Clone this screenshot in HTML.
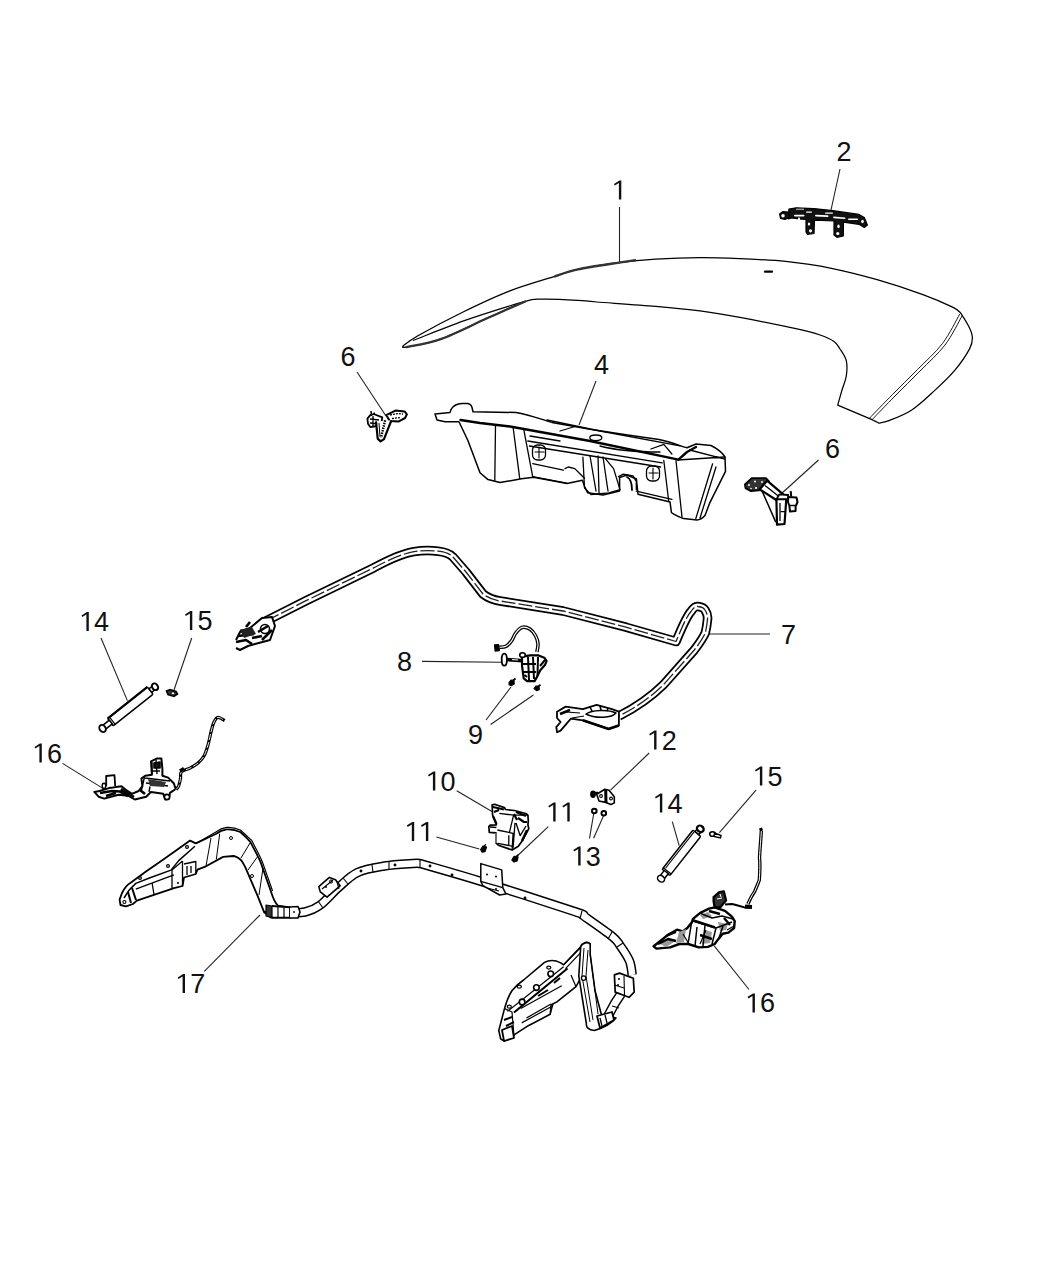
<!DOCTYPE html>
<html><head><meta charset="utf-8"><style>
html,body{margin:0;padding:0;background:#fff;}
svg{display:block;}
text{font-family:"Liberation Sans",sans-serif;font-size:27px;fill:#111;}
</style></head><body>
<svg width="1050" height="1275" viewBox="0 0 1050 1275">
<rect width="1050" height="1275" fill="#fff"/>
<!-- LABELS -->
<g fill="#111">
<path d="M618.9,199.5 L621.3,199.5 L621.3,180.5 L619.4,180.5 L614.0,183.9 L614.8,185.6 L618.9,183.1 Z"/>
<text x="836.4" y="160.5">2</text>
<text x="593.9" y="373.5">4</text>
<text x="340.4" y="365.5">6</text>
<text x="824.9" y="457.5">6</text>
<text x="780.9" y="643.5">7</text>
<text x="396.9" y="670.5">8</text>
<text x="467.9" y="744.0">9</text>
<path d="M86.4,631.0 L88.8,631.0 L88.8,612.0 L86.9,612.0 L81.5,615.4 L82.3,617.1 L86.4,614.6 Z"/>
<text x="94.0" y="631.0">4</text>
<path d="M189.9,630.0 L192.3,630.0 L192.3,611.0 L190.4,611.0 L185.0,614.4 L185.8,616.1 L189.9,613.6 Z"/>
<text x="197.5" y="630.0">5</text>
<path d="M39.4,762.5 L41.8,762.5 L41.8,743.5 L39.9,743.5 L34.5,746.9 L35.3,748.6 L39.4,746.1 Z"/>
<text x="47.0" y="762.5">6</text>
<path d="M432.9,790.5 L435.3,790.5 L435.3,771.5 L433.4,771.5 L428.0,774.9 L428.8,776.6 L432.9,774.1 Z"/>
<text x="440.5" y="790.5">0</text>
<path d="M411.8,840.9 L414.2,840.9 L414.2,821.9 L412.3,821.9 L406.9,825.3 L407.7,827.0 L411.8,824.5 Z"/>
<path d="M425.9,840.9 L428.3,840.9 L428.3,821.9 L426.4,821.9 L421.0,825.3 L421.8,827.0 L425.9,824.5 Z"/>
<path d="M553.2,821.5 L555.6,821.5 L555.6,802.5 L553.7,802.5 L548.3,805.9 L549.1,807.6 L553.2,805.1 Z"/>
<path d="M567.3,821.5 L569.7,821.5 L569.7,802.5 L567.8,802.5 L562.4,805.9 L563.2,807.6 L567.3,805.1 Z"/>
<path d="M654.1,749.5 L656.5,749.5 L656.5,730.5 L654.6,730.5 L649.2,733.9 L650.0,735.6 L654.1,733.1 Z"/>
<text x="661.7" y="749.5">2</text>
<path d="M578.2,865.5 L580.6,865.5 L580.6,846.5 L578.7,846.5 L573.3,849.9 L574.1,851.6 L578.2,849.1 Z"/>
<text x="585.8" y="865.5">3</text>
<path d="M659.9,812.5 L662.3,812.5 L662.3,793.5 L660.4,793.5 L655.0,796.9 L655.8,798.6 L659.9,796.1 Z"/>
<text x="667.5" y="812.5">4</text>
<path d="M759.9,785.5 L762.3,785.5 L762.3,766.5 L760.4,766.5 L755.0,769.9 L755.8,771.6 L759.9,769.1 Z"/>
<text x="767.5" y="785.5">5</text>
<path d="M752.5,1012.4 L754.9,1012.4 L754.9,993.4 L753.0,993.4 L747.6,996.8 L748.4,998.5 L752.5,996.0 Z"/>
<text x="760.1" y="1012.4">6</text>
<path d="M182.6,993.0 L185.0,993.0 L185.0,974.0 L183.1,974.0 L177.7,977.4 L178.5,979.1 L182.6,976.6 Z"/>
<text x="190.2" y="993.0">7</text>
</g>
<!-- LEADERS -->
<g stroke="#222" stroke-width="1.1" fill="none">
<path d="M619.5,207 L619.5,262"/>
<path d="M840,169 L831,210"/>
<path d="M596,381 L579,425"/>
<path d="M357,372 L386,416"/>
<path d="M818.5,460 L781,494"/>
<path d="M710,634 L770,634"/>
<path d="M422,661.4 L501,662.3"/>
<path d="M486,720 L511,687 M490.6,724.5 L533.4,695"/>
<path d="M101,638 L127.4,700.6"/>
<path d="M191.7,638 L174,690"/>
<path d="M62.5,763.4 L103.3,788.6"/>
<path d="M456.7,790.7 L492.4,811.7"/>
<path d="M436.4,837 L479.3,849"/>
<path d="M548.3,826.7 L516.2,857"/>
<path d="M649.2,753 L610.5,790.2"/>
<path d="M589.5,838.3 L594,812 M593.6,838.3 L604.3,814"/>
<path d="M672.3,821.6 L679.2,845.7"/>
<path d="M756,790.2 L719.4,832.7"/>
<path d="M749,989.5 L714.2,945.8"/>
<path d="M204.3,971.4 L260,915"/>
</g>
<g fill="none" stroke="#000" stroke-width="1.4" stroke-linejoin="round" stroke-linecap="round">
<!-- PART 1 -->
<path d="M403.0,346.0 C405.5,344.3 407.8,341.4 417.9,335.7 C428.0,330.0 448.4,319.1 463.6,311.7 C478.8,304.3 494.1,297.0 509.3,291.1 C524.5,285.2 543.6,279.9 555.0,276.3 C566.4,272.7 567.2,271.7 577.9,269.4 C588.6,267.1 606.0,264.3 619.0,262.6 C632.0,260.9 642.2,260.0 655.7,259.2 C669.2,258.4 686.0,257.8 700.0,257.7 C714.0,257.6 725.7,258.1 740.0,258.7 C754.3,259.3 770.5,259.8 785.7,261.4 C800.9,263.0 816.2,265.2 831.4,268.3 C846.6,271.4 861.9,275.3 877.1,279.7 C892.4,284.1 910.3,290.0 922.9,294.6 C935.5,299.2 946.3,304.1 952.6,307.1 C958.9,310.2 959.3,311.9 960.6,312.9 L960.6,312.9 C961.8,314.9 966.0,321.1 968.0,325.0 C970.0,328.9 972.0,332.7 972.3,336.6 C972.6,340.5 972.7,342.9 969.7,348.6 C966.7,354.3 960.3,363.8 954.3,370.9 C948.3,378.0 940.9,384.8 933.7,391.4 C926.6,398.0 918.9,405.4 911.4,410.3 C903.9,415.2 894.4,418.5 889.0,420.6 C883.6,422.7 880.6,422.7 878.9,423.1 L878.9,423.1 C877.8,422.5 873.1,420.3 872.0,419.7 L872.0,419.7 C866.3,417.3 843.4,407.5 837.7,405.1 L837.7,405.1 C838.4,402.6 840.6,394.9 842.0,390.0 C843.4,385.1 845.6,380.9 846.3,376.0 C847.0,371.1 847.3,365.1 846.3,360.6 C845.2,356.1 842.0,352.1 840.0,349.0 C838.0,345.9 837.6,344.0 834.3,341.7 C831.0,339.4 826.2,337.1 820.0,335.0 C813.8,332.9 810.3,331.8 797.0,328.9 C783.7,326.0 756.2,320.4 740.0,317.4 C723.8,314.4 714.0,312.7 700.0,310.9 C686.0,309.1 672.9,307.9 655.7,306.4 C638.5,304.9 609.7,303.0 596.7,302.0 C583.7,301.0 586.8,300.8 577.9,300.3 C569.0,299.8 552.4,298.9 543.6,299.1 C534.8,299.3 534.8,298.1 525.3,301.4 C515.8,304.6 500.5,312.3 486.4,318.6 C472.3,324.9 454.0,334.4 440.7,339.1 C427.4,343.9 412.7,346.0 406.4,347.1 C400.1,348.2 403.6,346.2 403.0,346.0 Z" stroke-width="1.25"/>
<path d="M413.3,340.3 C421.7,337.1 447.6,326.6 463.6,320.9 C479.6,315.2 499.0,309.2 509.3,306.0 C519.6,302.8 522.6,302.2 525.3,301.4" stroke-width="1.2"/>
<path d="M962.0,316.0 C959.2,320.8 952.0,335.8 945.0,345.0 C938.0,354.2 928.3,362.5 920.0,371.0 C911.7,379.5 903.0,387.9 895.0,396.0 C887.0,404.1 875.8,415.8 872.0,419.7" stroke-width="0.9"/>
<path d="M959.5,314.5 C956.7,319.3 949.5,334.3 942.5,343.5 C935.5,352.7 925.8,361.0 917.5,369.5 C909.2,378.0 900.5,386.4 892.5,394.5 C884.5,402.6 873.3,414.2 869.5,418.2" stroke-width="0.9"/>
<path d="M555.0,276.3 C558.8,275.1 567.2,271.7 577.9,269.4 C588.6,267.1 609.5,264.1 619.0,262.6 C628.5,261.1 632.3,260.7 635.0,260.3" stroke-width="2.4" stroke="#333"/>
<path d="M406.4,347.1 C412.1,345.8 427.4,343.9 440.7,339.1 C454.0,334.4 472.3,324.9 486.4,318.6 C500.5,312.3 518.8,304.3 525.3,301.4" stroke-width="2.2" stroke="#333"/>
<path d="M765,271.7 L772,271.7" stroke-width="2.2"/>
</g>
<!-- PART 2 -->
<g stroke="#000" stroke-linejoin="round">
<path d="M788.9,209 L796.2,207.8 L814,208.6 L832.9,210.7 L859,214.4 L864.3,217.5 L867.4,225 L864.3,227.5 L859,224.3 L843.5,222.2 L843.3,236 L837,237.3 L834,235 L834,221 L814.5,220.1 L814,233.5 L807.5,234.3 L806,232 L806,219.5 L801.4,219.1 L791,218 L788.5,219 Z" fill="#111" stroke-width="1.2"/>
<path d="M779.6,214 L783,211.5 L788.5,212 L789.5,217.5 L785,219.5 L780.5,218.5 Z" fill="#111" stroke-width="1.2"/>
<g fill="#fff" stroke="none">
<ellipse cx="783" cy="215.8" rx="1.8" ry="1.8"/>
<rect x="794" y="214.8" width="10.5" height="1.6" rx="0.8"/>
<rect x="815" y="215" width="13.5" height="1.7" rx="0.8" transform="rotate(3 821 216)"/>
<rect x="833" y="217" width="12.5" height="1.6" rx="0.8" transform="rotate(5 839 218)"/>
<rect x="796" y="208.6" width="8" height="1.4" fill="#999"/>
<rect x="848" y="218.6" width="10" height="1.4" rx="0.7"/>
<ellipse cx="810.5" cy="230.8" rx="1.6" ry="1.6"/>
<ellipse cx="837.8" cy="233.5" rx="1.6" ry="1.6"/>
<ellipse cx="838.5" cy="226.4" rx="1.2" ry="1.8"/>
<ellipse cx="809" cy="224" rx="1.2" ry="1.6"/>
<ellipse cx="862.5" cy="221.5" rx="1.3" ry="1.8"/>
<rect x="806" y="211.5" width="6" height="1.2" rx="0.6"/>
<rect x="825" y="212.5" width="8" height="1.2" rx="0.6"/>
<rect x="798" y="217.5" width="2" height="4" rx="1"/>
</g>
</g>
<!-- PART 4 -->
<g fill="none" stroke="#000" stroke-width="1.3" stroke-linejoin="round" stroke-linecap="round">
<path d="M435,414 L450,412.5 L451,409.5 C453,406 456,404 462,403.6 L468,403.4 C471,404 472,406 473,411.8 L516,412.5 C530,415 540,419 552,422.4 L590,429.3 L626,434.8 L659,439.4 C672,442 680,446 687,447.8 L696,444 L711,445.5 C718,449 722,452 725,457 L725.5,471.4 L709.5,503.4 L705,515.6 C702,519 700,520 697,520 L683.6,518.6 C677,516 673,514 671.4,512.5 L670,501.9 L638,494.2 L636.4,479 L627,475 L619.6,477.5 L619.6,491 L603,495 L587.6,492.7 L584.6,486.6 L582.4,480.3 L567,483.4 L533.6,477.3 L521.4,478.8 L500,482.6 L488,479.6 L480,472.7 L468,440.7 L459,421.7 L445,421.7 L437,420 Z" fill="#fff" stroke-width="1.5"/>
<path d="M460.5,420 L480,423 L510,426.5 L590,441 L678.4,459.7 L687,452 L696,447" stroke-width="2.4"/>
<path d="M547,420 L600,431 L680,445.9 M527.8,441 L662.2,462.9 M529.4,446 L660.6,467"/>
<path d="M677.5,460 L724.8,457 M689.7,450 L724.8,459.2 M650.9,449 L663.8,444.3 L671.9,454"/>
<path d="M676,460.7 L682,517 M712.6,463.8 L695.8,518.6 M716,467 L700,518 M663.8,460.5 L668.7,501"/>
<path d="M495.5,424.7 L494.8,480.3 M513.2,428 L519.7,478.3 M523.8,429.7 L532.7,476.7"/>
<path d="M532.7,463.7 L563.4,470.2 M532.7,476.7 L566.7,483.1"/>
<path d="M565,468.6 L568.3,467 L574.8,468.6 L581.2,475 L584.5,478.3"/>
<path d="M582.9,457.2 L584.5,488 L591,494.5 L608.8,492.9 L620,489.6 L613.6,468.6 L605.5,458.9 M590,456 L596,491 M598,456 L599,493 M603,457 L608,491"/>
<path d="M618.5,476.7 L623.3,474.2 L633,475.9 L636.3,481.5 L636.3,489.6 M636.3,491.2 L671.9,499.3"/>
<path d="M530,436 L560,441 M560,431 L575,426.5 M600,446 C615,450 640,452 660,452"/>
<rect x="532.5" y="445" width="13" height="15" rx="5"/>
<path d="M535,452 L544,452 M539,447 L539,458" stroke-width="1.1"/>
<rect x="646.5" y="466" width="13" height="15" rx="5"/>
<path d="M649,473 L658,473 M653,468 L653,479" stroke-width="1.1"/>
<ellipse cx="595.8" cy="437.8" rx="6" ry="2.8"/>
<path d="M627,477 C631,479 632,484 632,490" stroke-width="1.8"/>
</g>
<!-- PART 6 LEFT -->
<g fill="none" stroke="#000" stroke-width="1.6" stroke-linejoin="round">
<path d="M386.3,415.1 L395.4,410.6 L404.6,411.4 L406.9,414.3 L405.1,418 L398.9,421.4 L389.7,420.9 Z" fill="#fff" stroke-width="2"/>
<path d="M390,415 L398,413.5 L403,414 M392,418.5 L401,417.5" stroke-width="1.3" stroke-dasharray="2 1"/>
<path d="M367.4,418.6 L370.3,415.1 L373.7,414 L382.3,417.4 L381.7,421.4 L377.1,426 L370.3,427.1 L368,423.7 Z" fill="#fff" stroke-width="1.8"/>
<path d="M370,419 L379,420 M370,423 L376,423.5 M373,416 L373,426" stroke-width="1.3"/>
<path d="M376,421.4 L377.7,438.6 L380.6,441.4 L384,439.1 L391.4,420.3" fill="#fff" stroke-width="2.2"/>
<path d="M385.1,420.3 L381.1,437.4" stroke-width="2.4" stroke-dasharray="1.5 1"/>
<path d="M379,423 L380,437" stroke-width="1"/>
<path d="M371,411 L371.5,416 M374,412.5 L374.5,415" stroke-width="1.5"/>
</g>
<!-- PART 6 RIGHT -->
<g fill="none" stroke="#000" stroke-width="1.6" stroke-linejoin="round">
<path d="M744.9,484.4 L751.7,478.2 L765.9,478.2 L769,481.3 L767.1,486.9 L761,490 L751,491.2 L745.5,488.1 Z" fill="#333" stroke-width="1.8"/>
<g fill="#fff" stroke="none"><circle cx="749" cy="485" r="1"/><circle cx="755" cy="481.5" r="1"/><circle cx="762" cy="482" r="0.9"/><circle cx="756" cy="488" r="1.1"/><circle cx="764" cy="485.5" r="0.9"/><circle cx="751" cy="488.5" r="0.8"/></g>
<path d="M767.1,480.7 L783.2,494.3 L777,500.5 L759.7,489.3 Z" fill="#fff" stroke-width="2.2"/>
<path d="M765,485.5 L779,496.5" stroke-width="1.4"/>
<path d="M761.6,490 L775.8,522.1" stroke-width="1.5"/>
<path d="M776.4,499.2 L777,524.6 L784.5,524 L786.3,499.2 Z" fill="#fff" stroke-width="2.2"/>
<path d="M779.5,494.3 L788.2,495 L788.2,499.2 L776.4,499.2 Z" fill="#fff" stroke-width="1.8"/>
<path d="M780.8,511.6 L785.5,511.6 M780,503 L780,521" stroke-width="1.3"/>
<path d="M790.7,491.2 L791.2,496.5" stroke-width="2"/>
<path d="M788.2,497 L796.5,497.5 L797.5,502 L795.6,506.5 L795.6,511 L790,511.6 L789.4,506 L788,502 Z" fill="#fff" stroke-width="2"/>
<path d="M789.5,505.5 L795.5,505.5" stroke-width="1.5"/>
</g>
<!-- PART 7 -->
<g fill="none" stroke-linejoin="round" stroke-linecap="butt">
<path d="M266,621 L306,600.7 L374,567.7 C390,559 405,553 414,551.6 C425,550 432,550.5 438,551.2 C446,552 450,554 453,557 L466,572 L483,594 C488,598 494,600 500,601 L563,611 L626,627.2 L676,641.5 C681,630 686,617 691,611.5 C694,607 696,606 698,606.5 C702,607 704,608 705,610 C707,613 708,616 707.5,619.3 C707,625 706,630 705.3,633 C702,640 698,645 694.3,650 L663.5,684.7 C650,698 635,708 619,716" stroke="#000" stroke-width="9.5"/>
<path d="M266,621 L306,600.7 L374,567.7 C390,559 405,553 414,551.6 C425,550 432,550.5 438,551.2 C446,552 450,554 453,557 L466,572 L483,594 C488,598 494,600 500,601 L563,611 L626,627.2 L676,641.5 C681,630 686,617 691,611.5 C694,607 696,606 698,606.5 C702,607 704,608 705,610 C707,613 708,616 707.5,619.3 C707,625 706,630 705.3,633 C702,640 698,645 694.3,650 L663.5,684.7 C650,698 635,708 619,716" stroke="#fff" stroke-width="6"/>
<path d="M266,621 L306,600.7 L374,567.7 C390,559 405,553 414,551.6 C425,550 432,550.5 438,551.2 C446,552 450,554 453,557 L466,572 L483,594 C488,598 494,600 500,601 L563,611 L626,627.2 L676,641.5 C681,630 686,617 691,611.5 C694,607 696,606 698,606.5 C702,607 704,608 705,610 C707,613 708,616 707.5,619.3 C707,625 706,630 705.3,633 C702,640 698,645 694.3,650 L663.5,684.7 C650,698 635,708 619,716" stroke="#222" stroke-width="1.3" stroke-dasharray="14 3"/>
</g>
<g fill="none" stroke="#000" stroke-width="1.6" stroke-linejoin="round">
<path d="M236,640 L240,632 L250,628 L262,618 L272,617 L275,626 L270,640 L255,644 L248,646 L240,650 L236,648" fill="#fff" stroke-width="2"/>
<path d="M238,636 L254,634 M246,627 L250,622 M258,632 L268,626 M236,642 L246,640 L252,644 M240,631 L250,629 M252,638 L262,636 M262,640 L272,630" stroke-width="2.6"/>
<path d="M240,630 L252,627 L256,634 L244,638 Z" fill="#222" stroke="none"/>
<circle cx="265" cy="629" r="4.5" stroke-width="1.6"/>
<path d="M557,711.7 L565.7,706.6 L582.9,709.1 L596.6,704.9 L612,709.1 L618.9,711.7 L618.9,725.4 L608.6,728.9 L582.9,720.3 L570.9,718.6 L560.6,730.6 L557.1,732.3 L556.3,727.1 L560.6,722 L557,718 Z" fill="#fff" stroke-width="1.8"/>
<path d="M566,712 L580,713 M572,718 L584,716" stroke-width="1.2"/>
<path d="M586,714 C592,710 608,709 616,713 C612,718 596,719 586,714 Z" stroke-width="1.5"/>
<path d="M590,707 L592,711 M600,706 L601,710 M608,708 L607,711" stroke-width="1.6"/>
<path d="M582.9,720.3 L608.6,728.9 L618.9,725.4" stroke-width="2.6"/>
<path d="M560,714 L570,710" stroke-width="2.6"/>
</g>
<!-- PART 8 -->
<g fill="none" stroke="#000" stroke-width="1.5" stroke-linejoin="round">
<path d="M499.1,647.4 C500.2,647.2 503.9,647.4 506.0,646.3 C508.1,645.2 510.1,642.8 511.7,640.6 C513.3,638.4 514.0,635.3 515.7,633.1 C517.4,630.9 519.6,628.1 522.0,627.4 C524.4,626.7 527.7,627.7 530.0,629.1 C532.3,630.5 534.4,633.5 535.7,636.0 C537.0,638.5 537.8,641.3 538.0,644.0 C538.2,646.7 537.1,650.7 536.9,652.0" stroke-width="3.6"/>
<path d="M499.1,647.4 C500.2,647.2 503.9,647.4 506.0,646.3 C508.1,645.2 510.1,642.8 511.7,640.6 C513.3,638.4 514.0,635.3 515.7,633.1 C517.4,630.9 519.6,628.1 522.0,627.4 C524.4,626.7 527.7,627.7 530.0,629.1 C532.3,630.5 534.4,633.5 535.7,636.0 C537.0,638.5 537.8,641.3 538.0,644.0 C538.2,646.7 537.1,650.7 536.9,652.0" stroke="#fff" stroke-width="1.1"/>
<path d="M494.6,645 L498.5,644.6 L499.3,650.5 L495.2,651 Z" fill="#000" stroke-width="1.4"/>
<ellipse cx="504.3" cy="659.7" rx="2.6" ry="6" fill="#fff" stroke-width="1.8"/>
<path d="M506.5,659.5 L523,660.8" stroke-width="3.6"/>
<path d="M512,659.6 L518,660" stroke="#fff" stroke-width="1"/>
<path d="M522,656.6 L530,655.4 L538.6,655.4 L544.3,657.7 L546.6,661.1 L544.9,665.1 L540.3,670.3 L536.9,677.1 L534.6,681.1 L527.1,681.1 L523.7,678.3 L522,665.7 Z" fill="#fff" stroke-width="2.2"/>
<ellipse cx="522.5" cy="655" rx="2.8" ry="2.3" fill="#fff" stroke-width="1.6"/>
<path d="M528,657 L529,680 M533,657 L534,679 M522.5,664 L536,664 M523,672 L536,672 M538,657 L537.5,676 M540,666 L545,660" stroke-width="2"/>
<path d="M524.5,675 L527,677" stroke-width="2"/>
</g>
<!-- PART 9 screws -->
<g fill="#000" stroke="#000" stroke-width="1.2" stroke-linejoin="round">
<path d="M509,682.5 L511,680 L514,680.5 L514.2,684 L511.5,685.6 L509.2,685 Z"/>
<path d="M513,680.5 L515.5,678.5" stroke-width="1.8"/>
<path d="M534,688.5 L536,686 L539,686.4 L539.3,689.6 L536.5,690.6 Z"/>
<path d="M538,686.5 L540.5,684.8" stroke-width="1.8"/>
</g>
<!-- PART 10 -->
<g fill="none" stroke="#000" stroke-width="1.3" stroke-linejoin="round">
<path d="M492.1,804.8 L494.5,804.3 L504.5,807.6 L505.5,809.5 L514.5,810.5 L526.4,813.8 L527.9,815.2 L528.3,821 L527.9,824.8 L528.8,828.6 L526.9,832.4 L522.1,841 L518.3,846.2 L512.1,850 L498.3,845.2 L496,842.9 L496,832.9 L489.3,832.4 L488.8,826.7 L490.2,825.2 L496.4,824.8 L492.6,815.2 Z" fill="#fff" stroke-width="1.7"/>
<path d="M497.4,830 L513.1,833.3 L512.1,849.5 M497.9,843.3 L512.1,846.2 M508.8,835.2 L508.8,845.2 M499.3,813.3 L513.6,815.2 L509.3,832.9 M513.6,815.2 L527.9,815.2 M515,822.9 L513.1,847.6 M516,823 L520.2,835.7 L526,826 M490,827 L496.4,827.5"/>
<path d="M493,807 L504,809.5 M494,812 L499,810 M516,812 L526,816 M518,818 L524,822 L527,822 M514,814 L517,820 M493,816 L496.5,824" stroke-width="2.2"/>
<path d="M496,833 L496,843" stroke-width="1.8" stroke="#777"/>
<path d="M522,841 L527,830" stroke-width="2.4"/>
</g>
<!-- PART 11 screws -->
<g fill="#000" stroke="#000" stroke-width="1.3" stroke-linejoin="round">
<path d="M480.7,849.5 L483,846 L486.5,847 L485,851.5 L482,852 Z"/>
<path d="M484,846 L486,844.5"/>
<path d="M511.9,860 L514,856.5 L518,857 L517,861 L514,862 Z"/>
<path d="M516,856.5 L518.5,854.5"/>
</g>
<!-- PART 12 -->
<g fill="none" stroke="#000" stroke-width="1.4" stroke-linejoin="round">
<path d="M596.7,794.3 L604.8,789.3 L609,790.2 L614.3,796.7 L614.3,802.9 L611,804.5 L605.7,802.4 L599,801 Z" fill="#fff" stroke-width="1.6"/>
<path d="M605.7,790 L606,803" stroke-width="3"/>
<circle cx="601" cy="796" r="1.4" stroke-width="1.1"/>
<circle cx="611" cy="798.5" r="1.4" stroke-width="1.1"/>
<ellipse cx="593" cy="794.3" rx="2.2" ry="3" fill="#000"/>
<path d="M594,793 L598,793" stroke-width="2.5"/>
</g>
<!-- PART 13 nuts -->
<g fill="#fff" stroke="#000" stroke-width="2"><circle cx="594.3" cy="811" r="2.3"/><circle cx="603.8" cy="813.3" r="2.3"/></g>
<!-- PART 14 LEFT strut -->
<g transform="translate(130.35,706.4) rotate(-38.5)" fill="#fff" stroke="#000" stroke-width="1.5">
<rect x="-25.5" y="-4.6" width="51" height="9.2" rx="1.5"/>
<path d="M-25.5,-4.6 L25.5,-4.6" stroke-width="2.2"/>
<rect x="-33" y="-2.4" width="8" height="4.8"/>
<ellipse cx="-35.5" cy="0" rx="3" ry="3.8" stroke-width="1.8"/>
<rect x="25.5" y="-2.2" width="4" height="4.4"/>
<ellipse cx="31.5" cy="0" rx="2.8" ry="3.6" stroke-width="2"/>
<path d="M-23,-4.6 L-23,4.6" stroke-width="1.2"/>
</g>
<!-- PART 14 RIGHT strut -->
<g transform="translate(681.45,852.8) rotate(-51.8)" fill="#fff" stroke="#000" stroke-width="1.5">
<rect x="-25" y="-5" width="50" height="10" rx="1.5"/>
<path d="M-22,-3 L24,-3" stroke-width="1.1"/>
<rect x="-30.5" y="-2.6" width="6" height="5.2"/>
<ellipse cx="-33" cy="0" rx="3" ry="3.8"/>
<rect x="25" y="-2.4" width="3" height="4.8"/>
<ellipse cx="30.5" cy="0" rx="3" ry="3.6" fill="#fff" stroke-width="2.3"/>
<path d="M-23,-5 L-23,5" stroke-width="1.3"/>
</g>
<!-- PART 15 clips -->
<g fill="#fff" stroke="#000" stroke-width="1.6">
<path d="M166.5,691 L170,689.5 L176,691.5 L177.5,694 L174,696.4 L168,694.5 Z" fill="#333"/>
<circle cx="173" cy="693.3" r="1.6" fill="#fff" stroke-width="0.8"/>
<ellipse cx="712.5" cy="834" rx="2.8" ry="2.3"/>
<path d="M714.5,833 L721,835.5 L720.5,838 L714,836.5 Z" stroke-width="1.4"/>
</g>
<!-- PART 16 LEFT -->
<g fill="none" stroke="#000" stroke-width="1.6" stroke-linejoin="round">
<path d="M94.3,791.9 L99.5,791 L109,788.1 L121.4,786.2 L126.2,790 L131.9,793.8 L138.6,791 L142.4,786.2 L141.4,778.6 L145.2,775.7 L151.9,774.8 L151,761.4 L156.7,758.6 L161.4,758.6 L162.4,769 L162.4,775.7 L168.1,777.6 L173.8,783.3 L175.7,789 L170,792.9 L169,798.6 L165.2,799.5 L163.3,793.8 L151,791.9 L146.2,796.7 L134.8,799.5 L128.1,795.7 L118.6,794.8 L104.3,798.6 L98.6,796.7 Z" fill="#fff" stroke-width="2"/>
<path d="M106.2,786.2 L106.2,776 L114.5,775.2 L115.2,786.2" fill="#fff" stroke-width="1.8"/>
<ellipse cx="104" cy="785.8" rx="1.8" ry="2.6" stroke-width="1.5"/>
<path d="M100,793 L112,791 L120,791.5 L128,796 M106,796 L116,793 M121,789 L126,792 L134,797 M140,790 L145,794" stroke-width="2.6"/>
<path d="M145,778 L170,781 M146,783 L168,786 M150,786.5 L149,792 M152,762 L152,774 M156,760 L157,774 M144.5,777 L141,792" stroke-width="1.4"/>
<path d="M154,763 L160,762 L160,768 L154,768 Z M152,771 L160,771" fill="#111" stroke-width="1.6"/>
<path d="M148,779 L166,782 L164,787 L150,786 Z" fill="#333" stroke="none"/>
<ellipse cx="167" cy="797" rx="2.6" ry="2.6" fill="#fff" stroke-width="1.6"/>
<path d="M176.0,789.5 C176.4,789.0 177.8,788.0 178.6,786.2 C179.3,784.4 180.0,781.0 180.5,778.6 C181.0,776.2 179.8,773.6 181.4,771.9 C183.0,770.1 187.2,769.6 190.0,768.1 C192.8,766.6 195.7,765.0 198.0,763.0 C200.3,761.0 202.3,759.0 204.0,756.0 C205.7,753.0 206.8,749.0 208.0,745.0 C209.2,741.0 210.0,735.8 211.0,732.0 C212.0,728.2 212.8,724.5 214.0,722.0 C215.2,719.5 216.2,717.5 218.0,717.3 C219.8,717.1 223.6,720.1 224.7,720.7" stroke-width="3.2"/>
<path d="M176.0,789.5 C176.4,789.0 177.8,788.0 178.6,786.2 C179.3,784.4 180.0,781.0 180.5,778.6 C181.0,776.2 179.8,773.6 181.4,771.9 C183.0,770.1 187.2,769.6 190.0,768.1 C192.8,766.6 195.7,765.0 198.0,763.0 C200.3,761.0 202.3,759.0 204.0,756.0 C205.7,753.0 206.8,749.0 208.0,745.0 C209.2,741.0 210.0,735.8 211.0,732.0 C212.0,728.2 212.8,724.5 214.0,722.0 C215.2,719.5 216.2,717.5 218.0,717.3 C219.8,717.1 223.6,720.1 224.7,720.7" stroke="#fff" stroke-width="0.9" stroke-dasharray="6 2"/>
<path d="M180,771 L184,768.5" stroke-width="3.5"/>
</g>
<!-- PART 16 RIGHT -->
<g fill="none" stroke="#000" stroke-width="1.6" stroke-linejoin="round">
<path d="M693,918.9 L699.9,913.1 L709,908.6 L714.7,907.4 L725,910.9 L731.9,916.6 L734.7,921.1 L734.1,928 L728.4,932.6 L722.7,933.7 L718.1,939.4 L714.7,944 L707.9,946.9 L698.7,947.4 L688.4,944 L679.3,944 L670.1,947.4 L656.4,948.6 L653.6,946.3 L658.7,942.3 L667.9,934.9 L677,929.7 L682.7,931.4 L687.3,928 L691.9,922.3 Z" fill="#fff" stroke-width="2.4"/>
<path d="M679,932 L686,929 L684,942 L676,943 Z M660,944 L668,938 L674,942 L666,947 Z M704,930 L712,932 L710,943 L702,944 Z M718,922 L728,924 L726,930 L720,931 Z M700,915 L708,912 L712,916 L703,919 Z" fill="#999" stroke="none"/>
<path d="M693,921 L706,925 L716,928 L732,922 M699.9,913.1 L712,918 L722,916 L733,919 M705,925 L703,946 M716,928 L712,944 M723,926 L719,938 M691.5,923 L688,944 M697,927 L695,946" stroke-width="1.5"/>
<path d="M692,920 L715,927.5 M658,944 L668,939 L676,941 M666,936 L676,932 M700,935 L712,939 M709,911 L720,914 M724,918 L730,925" stroke-width="2.4"/>
<path d="M700,944 L706,930 M683,934 L689,944 M727,930 L734,926" stroke-width="1.2"/>
<path d="M713.6,897.1 L719.3,892 L723.9,891.4 L726.1,900.6 L723.9,902.9 L720.4,907.4 L714.7,907.4 L713.6,901.7 Z" fill="#333" stroke-width="2.2"/>
<path d="M717,899 L722,898 M720,894 L721,897" stroke="#fff" stroke-width="1"/>
<path d="M725,904.6 C728,904 730,904 731.9,904 C734,904.5 736,905 738.7,905.7 L744.4,907.4 L751.3,907.4" stroke-width="2"/>
<path d="M747.9,904 C750,899 752,895 754.7,891.4 C756,888 758,884 759.3,880 C760,870 760,862 759.5,858 C760,848 761,838 761.3,831" stroke-width="3.4"/>
<path d="M747.9,904 C750,899 752,895 754.7,891.4 C756,888 758,884 759.3,880 C760,870 760,862 759.5,858 C760,848 761,838 761.3,831" stroke="#fff" stroke-width="1"/>
<path d="M745,906.5 L752,907" stroke-width="4"/>
<path d="M759.5,830 L762.5,829" stroke-width="3"/>
</g>
<!-- PART 17 -->
<g fill="none" stroke-linejoin="round" stroke-linecap="butt">
<path d="M288.0,912.5 C290.8,912.4 299.6,913.2 305.0,912.0 C310.4,910.8 314.7,909.1 320.3,905.0 C325.9,900.9 332.4,892.8 338.6,887.4 C344.8,882.0 350.0,876.1 357.6,872.5 C365.2,868.9 375.1,867.5 384.3,866.0 C393.5,864.5 407.1,863.9 413.0,863.5 C418.9,863.1 418.8,863.5 420.0,863.5 L420.0,863.5 C430.5,866.6 457.2,874.0 482.9,882.0 C508.6,890.0 557.4,905.8 574.0,911.3 C590.6,916.8 581.0,914.4 582.4,915.0 L582.4,915.0 C587.3,918.5 605.4,930.9 611.7,936.0 C618.0,941.1 617.0,941.2 620.0,945.4 C623.0,949.6 627.5,956.1 629.5,961.0 C631.5,965.9 631.8,972.7 632.2,975.0" stroke="#000" stroke-width="9.5"/>
<path d="M288.0,912.5 C290.8,912.4 299.6,913.2 305.0,912.0 C310.4,910.8 314.7,909.1 320.3,905.0 C325.9,900.9 332.4,892.8 338.6,887.4 C344.8,882.0 350.0,876.1 357.6,872.5 C365.2,868.9 375.1,867.5 384.3,866.0 C393.5,864.5 407.1,863.9 413.0,863.5 C418.9,863.1 418.8,863.5 420.0,863.5 L420.0,863.5 C430.5,866.6 457.2,874.0 482.9,882.0 C508.6,890.0 557.4,905.8 574.0,911.3 C590.6,916.8 581.0,914.4 582.4,915.0 L582.4,915.0 C587.3,918.5 605.4,930.9 611.7,936.0 C618.0,941.1 617.0,941.2 620.0,945.4 C623.0,949.6 627.5,956.1 629.5,961.0 C631.5,965.9 631.8,972.7 632.2,975.0" stroke="#fff" stroke-width="6.5"/>
<path d="M621,994 L615,1003 L608,1016" stroke="#000" stroke-width="10"/>
<path d="M621,994 L615,1003 L608,1016" stroke="#fff" stroke-width="7"/>
</g>
<g fill="none" stroke="#000" stroke-width="1.1">
<path d="M318,901 L323,908 M343,878 L348,884 M372,865 L373,872 M389,862 L389,869 M420,859.5 L420,867.5 M582,911 L580,918.5 M612,932 L608,939 M623,943 L617,947 M612,1006 L619,1008"/>
<circle cx="395" cy="865" r="0.9" fill="#000"/><circle cx="430" cy="866" r="0.9" fill="#000"/><circle cx="452" cy="875" r="0.9" fill="#000"/><circle cx="525" cy="898" r="0.9" fill="#000"/><circle cx="361" cy="871" r="0.9" fill="#000"/>
</g>
<g fill="#fff" stroke="#000" stroke-width="1.6" stroke-linejoin="round">
<!-- left plate+arm -->
<path d="M119.6,899.6 L122,893 C125,887 128,884 131,882.5 L145.3,872 L164.4,858.7 L190.1,840.6 L195.8,843.4 L216.3,833.7 C220,831 223,830 226.6,829.4 C232,829 236,830 240.3,832 C245,836 248,839 250.6,842.3 C254,849 258,856 260.9,862.9 L271.1,892 C273,898 275,903 278,905.7 L290,907.4 L290,917.7 L271.1,917.7 C268,915 266,913 264.3,912.6 L257.4,895.4 L247.1,871.4 C244,864 242,861 240.3,859.4 C237,857 235,856 233.4,856 L223.1,856.9 L206,866.3 L197.4,869.7 L195.8,874 L184,877.5 L182.5,886 L174,888.2 L136.8,900.6 L133,904 L126,906.3 L120.5,905 Z" stroke-width="1.8"/>
<path d="M271,917 C268,912 266,912 264,912" stroke-width="2.5" fill="none"/>
<path d="M197,843 L216.3,831.7 C220,829 223,828 226.6,827.4 C232,827 236,828 240.3,830 C245,834 248,837 251.6,840.3 C255,847 259,854 262.4,861.9 L272.6,891" fill="none" stroke-width="1.2"/>
<path d="M194.9,846.3 L178.7,860.6 L171,870.1 L150.1,877.7 L135.8,883.4 L129.1,890.1 L124,898" fill="none" stroke-width="1.5"/>
<path d="M135.8,889.1 L173.9,874.9 M152,882.5 L154,894.5 M172,870 L172,888 M182.5,861 L182.5,886 M172,870 L182.5,861 M184,864 L195.8,861.5 L195.8,873 M187,866 L187,875 M191,866 L191,873" fill="none" stroke-width="1.3"/>
<path d="M132,888 L136,900 M128,892 L131,903" fill="none" stroke-width="2"/>
<circle cx="124.4" cy="902" r="1.5" fill="none" stroke-width="1.1"/>
<path d="M219.7,833.7 L216.3,859.4 M211,838 L206,866 M250,843 L241,858 M258,856 L248,870 M263,868 L259,895" fill="none" stroke-width="1"/>
<circle cx="140" cy="878" r="1.4" fill="none" stroke-width="1.2"/><circle cx="168" cy="866" r="1.4" fill="none" stroke-width="1.2"/><circle cx="187" cy="847" r="1.4" fill="none" stroke-width="1.2"/><circle cx="178" cy="883" r="1" fill="#000" stroke="none"/>
<circle cx="231" cy="838" r="1.5" fill="none" stroke-width="1"/><circle cx="252" cy="876" r="1.5" fill="none" stroke-width="1"/>
<path d="M272,906 L290,907.4 L290,917.7 L272,917.7" fill="#fff" stroke-width="1.8"/>
<path d="M278,906 L278,917 M284,907 L284,917" fill="none" stroke-width="1.2"/>
<path d="M266,905 L272,906 L272,917.7 L266,916 Z" fill="#333" stroke-width="1.2"/>
<path d="M290,907 L298,906.5 L300,912 L298,918 L290,918" fill="#fff" stroke-width="1.6"/>
<circle cx="294" cy="912" r="0.9" fill="#000" stroke="none"/>
<!-- bracket on tube left -->
<path d="M318.8,886.6 L329.4,877.4 L335.5,879.7 L340.1,885.8 L327,897.2 L320.3,891.9 Z" stroke-width="1.6"/>
<path d="M322,889 L333,880 M337,882 L339,889" fill="none" stroke-width="1.1"/><circle cx="326" cy="887" r="1" fill="#000" stroke="none"/><circle cx="331" cy="881.5" r="1.6" fill="none" stroke-width="1"/>
<!-- center bracket -->
<path d="M480.8,863.6 L501.7,869.9 L502.8,887.7 L505.9,894 L499.6,895 L482.9,885.6 L480.8,881.4 Z" stroke-width="1.5"/>
<path d="M480.8,881.4 L502.8,887.7 M487,888 L499,891" fill="none" stroke-width="1.2"/>
<circle cx="487" cy="874.5" r="1" fill="#000" stroke="none"/><circle cx="496" cy="876.5" r="1" fill="#000" stroke="none"/><circle cx="496" cy="889" r="1" fill="#000" stroke="none"/>
<!-- right plate -->
<path d="M500.7,1039 L498.8,1030.5 L504.5,1008.6 C507,1000 509,995 512.1,990.5 C516,986 519,983 523.6,980 L544.5,962.4 C547,961 549,960.5 552.1,960.5 C555,960.5 558,961.5 560.7,962.9 L563.6,964.8 L580.7,946.7 L585.5,942.4 C587,942 589,942.5 590.2,944.3 L590.2,954.3 L580.7,978.1 L576,986.7 L556.9,1001.9 L551.2,1004.8 L550.2,1014.3 L528.3,1025.7 L512.1,1036.2 L504.5,1041 Z" stroke-width="1.6"/>
<path d="M507.4,1011.4 L563.6,966.7 M514,1012.4 L567.4,968.6 M520.7,1008.6 L561.7,985.7 M563.6,964.8 L582.6,945.7 M565.5,968.6 L584.5,948.6 M521.7,1022.9 L551.2,1006.7 M526.4,1018.1 L551,1004 M504.5,1008.6 L512,1012 L514,1036 M550.2,1014.3 L553,1004 M576,986.7 L571,975" fill="none" stroke-width="1.2"/>
<path d="M514,1012.4 L567.4,968.6" fill="none" stroke-width="2"/>
<circle cx="522.1" cy="1001.9" r="2.8" stroke-width="1.6"/><circle cx="536.4" cy="987.6" r="2.8" stroke-width="1.6"/><circle cx="550.7" cy="973.8" r="2.8" stroke-width="1.6"/>
<ellipse cx="509.3" cy="1006.7" rx="2" ry="1.5" fill="none" stroke-width="1.3"/><ellipse cx="519.3" cy="986.7" rx="2" ry="1.5" fill="none" stroke-width="1.3"/><ellipse cx="548.8" cy="967.6" rx="2" ry="1.5" fill="none" stroke-width="1.3"/>
<path d="M502,1030 L512,1026 L514,1038 L504,1041 Z" fill="#fff" stroke-width="1.8"/>
<path d="M504,1020 L512,1017 M506,1026 L514,1022 M554,983 L560,978 M538,996 L548,990" fill="none" stroke-width="2"/>
<!-- right arm -->
<path d="M580.7,946.7 C582,943 588,941 590.2,944.3 L590.2,954.3 L595,990.5 L601.4,1014.5 L616,1018 C612,1023 606,1027 594.5,1030.5 C588,1030 586,1027 586.4,1023.8 L578.8,976.2 Z" stroke-width="1.6"/>
<path d="M584,948 L582,976 L590,1022 M588,950 L586,976 L593,1020 M590.2,954.3 L598,1014" fill="none" stroke-width="1"/>
<circle cx="583.6" cy="978.1" r="2.2" stroke-width="1.3"/>
<path d="M597,1016 L612,1012 L614,1020 L600,1028 Z" fill="#fff" stroke-width="1.8"/><path d="M600,1018 L602,1026 M605,1015 L607,1023" fill="none" stroke-width="1.3"/>
<!-- connector block -->
<path d="M614.4,974.9 L619.5,973.1 L633.3,978.3 L634.2,992.1 L629,997.3 L615.2,992.1 Z" stroke-width="1.7"/>
<path d="M624,976 L624.5,995 M614.5,985 L624,988" fill="none" stroke-width="1.1"/>
<circle cx="619" cy="979" r="1" fill="#000" stroke="none"/><circle cx="618" cy="985" r="1" fill="#000" stroke="none"/>
</g>
</svg>
</body></html>
